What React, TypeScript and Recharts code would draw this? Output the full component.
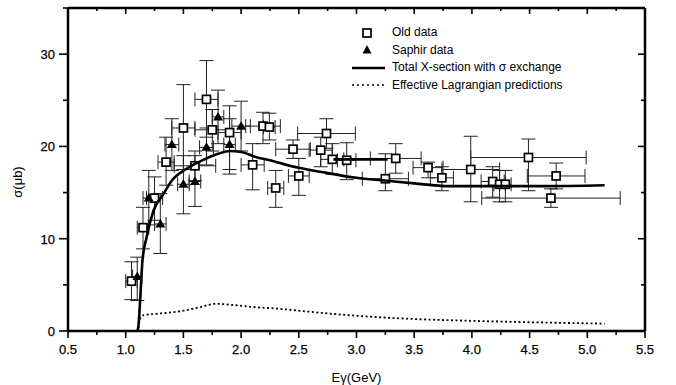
import { ScatterChart, Scatter, XAxis, YAxis, ErrorBar, Legend } from 'recharts'

// Old data (open squares): energy, cross-section, error bounds
const oldX = [1.05, 1.15, 1.25, 1.35, 1.5, 1.6, 1.7, 1.75, 1.9, 2.1, 2.19, 2.245, 2.3, 2.45, 2.5, 2.69, 2.74, 2.79, 2.915, 3.25, 3.34, 3.62, 3.74, 3.99, 4.18, 4.24, 4.29, 4.49, 4.685, 4.73]
const oldY = [5.4, 11.2, 14.4, 18.3, 22.0, 17.9, 25.1, 21.8, 21.5, 18.0, 22.2, 22.1, 15.5, 19.7, 16.8, 19.6, 21.4, 18.6, 18.5, 16.5, 18.7, 17.7, 16.6, 17.5, 16.2, 15.9, 15.9, 18.8, 14.4, 16.8]
const oldYLow = [3.4, 8.9, 12.0, 15.8, 17.5, 16.3, 21.0, 19.5, 17.0, 15.3, 20.3, 20.7, 13.4, 18.7, 14.7, 17.8, 19.8, 17.0, 16.4, 15.2, 17.1, 16.6, 15.2, 14.0, 14.5, 14.0, 14.0, 15.2, 13.4, 15.4]
const oldYHigh = [7.5, 13.4, 16.7, 21.0, 26.7, 19.5, 29.3, 24.0, 24.4, 20.3, 23.7, 23.6, 17.4, 20.7, 18.7, 21.0, 23.0, 20.3, 20.4, 19.2, 20.3, 18.3, 17.8, 21.1, 17.8, 17.4, 17.4, 20.8, 15.4, 18.2]
const oldXErr = [0.05, 0.05, 0.07, 0.07, 0.1, 0.18, 0.1, 0.15, 0.1, 0.1, 0.15, 0.05, 0.07, 0.15, 0.09, 0.1, 0.25, 0.1, 0.08, 0.2, 0.22, 0.13, 0.1, 0.25, 0.1, 0.05, 0.05, 0.5, 0.6, 0.25]

// Saphir data (filled triangles)
const saphirX = [1.1, 1.2, 1.3, 1.4, 1.5, 1.6, 1.7, 1.8, 1.9, 2.0]
const saphirY = [5.9, 14.4, 11.6, 20.2, 15.9, 16.2, 19.9, 23.2, 20.2, 22.2]
const saphirYLow = [3.3, 11.5, 8.4, 17.4, 12.7, 13.5, 18.0, 20.3, 17.5, 19.5]
const saphirYHigh = [8.0, 17.4, 14.9, 23.0, 19.0, 19.0, 22.0, 26.1, 23.0, 24.9]
const saphirXErr = [0.04, 0.05, 0.05, 0.06, 0.05, 0.05, 0.06, 0.05, 0.05, 0.08]

// Total X-section with sigma exchange (solid curve)
const totalX = [1.1, 1.11, 1.125, 1.145, 1.18, 1.24, 1.33, 1.4, 1.53, 1.65, 1.8, 1.9, 2.0, 2.14, 2.25, 2.42, 2.71, 3.0, 3.25, 3.5, 3.8, 4.2, 4.6, 5.15]
const totalY = [0, 0.5, 3.3, 7.6, 10.1, 13.0, 14.9, 16.3, 17.6, 18.4, 19.2, 19.5, 19.4, 18.8, 18.5, 17.9, 17.2, 16.6, 16.3, 16.0, 15.7, 15.7, 15.7, 15.8]
// short thick segment near 18.6
const segX = [2.8, 3.27]
const segY = [18.6, 18.6]

// Effective Lagrangian predictions (dotted curve)
const effX = [1.11, 1.12, 1.15, 1.3, 1.5, 1.65, 1.78, 1.9, 2.1, 2.34, 2.5, 3.0, 3.5, 4.0, 4.5, 5.15]
const effY = [0.3, 1.2, 1.7, 1.9, 2.2, 2.6, 2.95, 2.85, 2.6, 2.4, 2.2, 1.65, 1.3, 1.1, 0.95, 0.8]

const xMajor = [0.5, 1.0, 1.5, 2.0, 2.5, 3.0, 3.5, 4.0, 4.5, 5.0, 5.5]
const xTicks = xMajor.flatMap((v, i) => (i < xMajor.length - 1 ? [v, v + 0.25] : [v]))
const yTicks = [0, 5, 10, 15, 20, 25, 30, 35]

const oldData = oldX.map((x, i) => ({
  x,
  y: oldY[i],
  ey: [oldY[i] - oldYLow[i], oldYHigh[i] - oldY[i]],
  ex: oldXErr[i],
}))
const saphirData = saphirX.map((x, i) => ({
  x,
  y: saphirY[i],
  ey: [saphirY[i] - saphirYLow[i], saphirYHigh[i] - saphirY[i]],
  ex: saphirXErr[i],
}))
const totalData = totalX.map((x, i) => ({ x, y: totalY[i] }))
const segData = segX.map((x, i) => ({ x, y: segY[i] }))
const effData = effX.map((x, i) => ({ x, y: effY[i] }))

const FONT = '"Liberation Sans", Arial, sans-serif'
const W = 676
const H = 385

const isMajorX = (v: number) => Math.abs(v * 2 - Math.round(v * 2)) < 1e-6
const isMajorY = (v: number) => v % 10 === 0

function BottomTick({ x, y, payload }: any) {
  const major = isMajorX(payload.value)
  return (
    <g>
      <line x1={x} x2={x} y1={y} y2={y + (major ? 7 : 4)} stroke="#000" strokeWidth={1.6} />
      {major && (
        <text x={x} y={y + 23} textAnchor="middle" fontSize={13} fontFamily={FONT} fill="#000" stroke="#000" strokeWidth={0.25}>
          {payload.value.toFixed(1)}
        </text>
      )}
    </g>
  )
}

function TopTick({ x, y, payload }: any) {
  const major = isMajorX(payload.value)
  return <line x1={x} x2={x} y1={y} y2={y + (major ? 6 : 3)} stroke="#000" strokeWidth={1.6} />
}

function LeftTick({ x, y, payload }: any) {
  const major = isMajorY(payload.value)
  return (
    <g>
      <line x1={x - (major ? 9 : 5)} x2={x} y1={y} y2={y} stroke="#000" strokeWidth={1.6} />
      {major && (
        <text x={x - 13} y={y + 5} textAnchor="end" fontSize={13} fontFamily={FONT} fill="#000" stroke="#000" strokeWidth={0.25}>
          {payload.value}
        </text>
      )}
    </g>
  )
}

function RightTick({ x, y, payload }: any) {
  const major = isMajorY(payload.value)
  return <line x1={x - (major ? 7 : 4)} x2={x} y1={y} y2={y} stroke="#000" strokeWidth={1.6} />
}

const Square = (props: any) => (
  <rect x={props.cx - 4} y={props.cy - 4} width={8} height={8} fill="#fff" stroke="#000" strokeWidth={1.7} />
)

const Triangle = (props: any) => (
  <path d={`M${props.cx},${props.cy - 5} L${props.cx + 5},${props.cy + 3.5} L${props.cx - 5},${props.cy + 3.5} Z`} fill="#000" />
)

const NoPoint = () => <g />

const legendRows = [
  { name: 'Old data', kind: 'square' },
  { name: 'Saphir data', kind: 'triangle' },
  { name: 'Total X-section with σ exchange', kind: 'solid' },
  { name: 'Effective Lagrangian predictions', kind: 'dotted' },
]

function LegendBox() {
  return (
    <div style={{ fontFamily: FONT, fontSize: 12, color: '#000', lineHeight: '17.5px' }}>
      {legendRows.map((r) => (
        <div key={r.name} style={{ display: 'flex', alignItems: 'center', height: 17.5 }}>
          <svg width={40} height={12}>
            {r.kind === 'square' && <rect x={11} y={2} width={8} height={8} fill="#fff" stroke="#000" strokeWidth={1.7} />}
            {r.kind === 'triangle' && <path d="M15,1 L19.5,9.5 L10.5,9.5 Z" fill="#000" />}
            {r.kind === 'solid' && <line x1={0} x2={33} y1={6} y2={6} stroke="#000" strokeWidth={2.5} />}
            {r.kind === 'dotted' && <line x1={0} x2={33} y1={6} y2={6} stroke="#000" strokeWidth={1.6} strokeDasharray="2 3" />}
          </svg>
          <span>{r.name}</span>
        </div>
      ))}
    </div>
  )
}

export default function App() {
  return (
    <div style={{ position: 'absolute', left: 0, top: 0, width: W, height: H, background: '#fff' }}>
      <ScatterChart width={W} height={H} margin={{ top: 0, right: 0, bottom: 0, left: 0 }}>
        <XAxis
          xAxisId="bottom"
          type="number"
          dataKey="x"
          domain={[0.5, 5.5]}
          ticks={xTicks}
          interval={0}
          tickSize={0}
          tickMargin={0}
          tickLine={false}
          tick={BottomTick}
          axisLine={{ stroke: '#000', strokeWidth: 2.5 }}
          height={H - 331}
          allowDataOverflow
          label={{ value: 'Eγ(GeV)', position: 'insideBottom', offset: 3, fontSize: 13, fill: '#000', fontFamily: FONT }}
        />
        <XAxis
          xAxisId="top"
          orientation="top"
          type="number"
          dataKey="x"
          domain={[0.5, 5.5]}
          ticks={xTicks}
          interval={0}
          tickSize={0}
          tickMargin={0}
          tickLine={false}
          tick={TopTick}
          axisLine={{ stroke: '#000', strokeWidth: 2.5 }}
          height={8}
          allowDataOverflow
        />
        <YAxis
          yAxisId="left"
          type="number"
          dataKey="y"
          domain={[0, 35]}
          ticks={yTicks}
          interval={0}
          tickSize={0}
          tickMargin={0}
          tickLine={false}
          tick={LeftTick}
          axisLine={{ stroke: '#000', strokeWidth: 2.5 }}
          width={68}
          allowDataOverflow
          label={{
            content: () => (
              <text transform="translate(22,182) rotate(-90)" textAnchor="middle" fontSize={13} fontFamily={FONT} fill="#000">
                σ(μb)
              </text>
            ),
          }}
        />
        <YAxis
          yAxisId="right"
          orientation="right"
          type="number"
          dataKey="y"
          domain={[0, 35]}
          ticks={yTicks}
          interval={0}
          tickSize={0}
          tickMargin={0}
          tickLine={false}
          tick={RightTick}
          axisLine={{ stroke: '#000', strokeWidth: 2.5 }}
          width={W - 645}
          allowDataOverflow
        />
        <Legend
          layout="vertical"
          align="center"
          verticalAlign="middle"
          content={() => <LegendBox />}
          wrapperStyle={{ position: 'absolute', left: 352, top: 24, width: 260 }}
        />
        <Scatter
          name="Old data"
          xAxisId="bottom"
          yAxisId="left"
          data={oldData}
          shape={Square}
          isAnimationActive={false}
        >
          <ErrorBar dataKey="ey" direction="y" width={7} stroke="#222" strokeWidth={1} />
          <ErrorBar dataKey="ex" direction="x" width={7} stroke="#222" strokeWidth={1} />
        </Scatter>
        <Scatter
          name="Saphir data"
          xAxisId="bottom"
          yAxisId="left"
          data={saphirData}
          shape={Triangle}
          isAnimationActive={false}
        >
          <ErrorBar dataKey="ey" direction="y" width={7} stroke="#222" strokeWidth={1} />
          <ErrorBar dataKey="ex" direction="x" width={7} stroke="#222" strokeWidth={1} />
        </Scatter>
        <Scatter
          name="Total X-section with σ exchange"
          xAxisId="bottom"
          yAxisId="left"
          data={totalData}
          line={{ stroke: '#000', strokeWidth: 2.6 }}
          lineJointType="monotoneX"
          shape={NoPoint}
          isAnimationActive={false}
        />
        <Scatter
          name="segment"
          xAxisId="bottom"
          yAxisId="left"
          data={segData}
          line={{ stroke: '#000', strokeWidth: 2.6 }}
          shape={NoPoint}
          isAnimationActive={false}
        />
        <Scatter
          name="Effective Lagrangian predictions"
          xAxisId="bottom"
          yAxisId="left"
          data={effData}
          line={{ stroke: '#000', strokeWidth: 1.8, strokeDasharray: '2 2.5' }}
          lineJointType="monotoneX"
          shape={NoPoint}
          isAnimationActive={false}
        />
      </ScatterChart>
    </div>
  )
}
